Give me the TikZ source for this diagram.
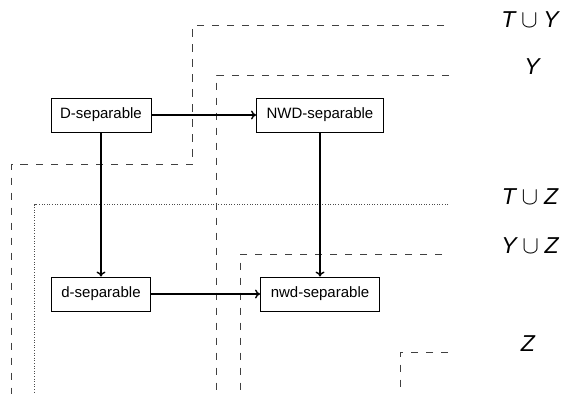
\documentclass[tikz,border=0pt]{standalone}
\usepackage{fontspec}
\setmainfont{Liberation Sans}
\usetikzlibrary{arrows.meta}
\newcommand{\setcup}{\hspace{0.25em}$\cup$\hspace{0.25em}}
\tikzset{
  sepbox/.style={draw, line width=0.9pt, font=\fontsize{15}{18}\selectfont,
    minimum height=34pt, inner sep=0pt, anchor=center},
  sepflow/.style={line width=1.4pt, -{To[length=5pt,width=9pt]}},
  region/.style={draw=black!75, line width=0.9pt, dash pattern=on 7.5pt off 7.5pt},
  regiondot/.style={draw=black!70, line width=0.8pt, dash pattern=on 0.8pt off 1.8pt},
  setlabel/.style={font=\fontsize{23}{27}\selectfont, anchor=center}
}
\begin{document}
\begin{tikzpicture}[x=1pt, y=-1pt]
  \useasboundingbox (0,0) rectangle (565,394);

  % nested regions, outermost first
  \draw[region] (444,25.5) -- (192.5,25.5) -- (192.5,164.5) -- (11,164.5) -- (11,394);
  \draw[region] (449,75) -- (216.5,75) -- (216.5,394);
  \draw[regiondot] (448,204.5) -- (34.5,204.5) -- (34.5,394);
  \draw[region] (442,254) -- (240.5,254) -- (240.5,394);
  \draw[region] (448,352.5) -- (400,352.5) -- (400,394);

  % region labels
  \node[setlabel] (lTY) at (530,20) {\itshape T\upshape\setcup\itshape Y};
  \node[setlabel] (lY)  at (532,67) {\itshape Y};
  \node[setlabel] (lTZ) at (530,197) {\itshape T\upshape\setcup\itshape Z};
  \node[setlabel] (lYZ) at (530,245.5) {\itshape Y\upshape\setcup\itshape Z};
  \node[setlabel] (lZ)  at (528,344) {\itshape Z};

  % separation notions
  \node[sepbox, minimum width=100pt] (Dsep)   at (101,115) {D-separable};
  \node[sepbox, minimum width=127pt] (NWDsep) at (320,115) {NWD-separable};
  \node[sepbox, minimum width=99pt]  (dsep)   at (101,294) {d-separable};
  \node[sepbox, minimum width=119pt] (nwdsep) at (320,294) {nwd-separable};

  % implications
  \draw[sepflow] (Dsep) -- (NWDsep);
  \draw[sepflow] (Dsep) -- (dsep);
  \draw[sepflow] (NWDsep) -- (nwdsep);
  \draw[sepflow] (dsep) -- (nwdsep);
\end{tikzpicture}
\end{document}
